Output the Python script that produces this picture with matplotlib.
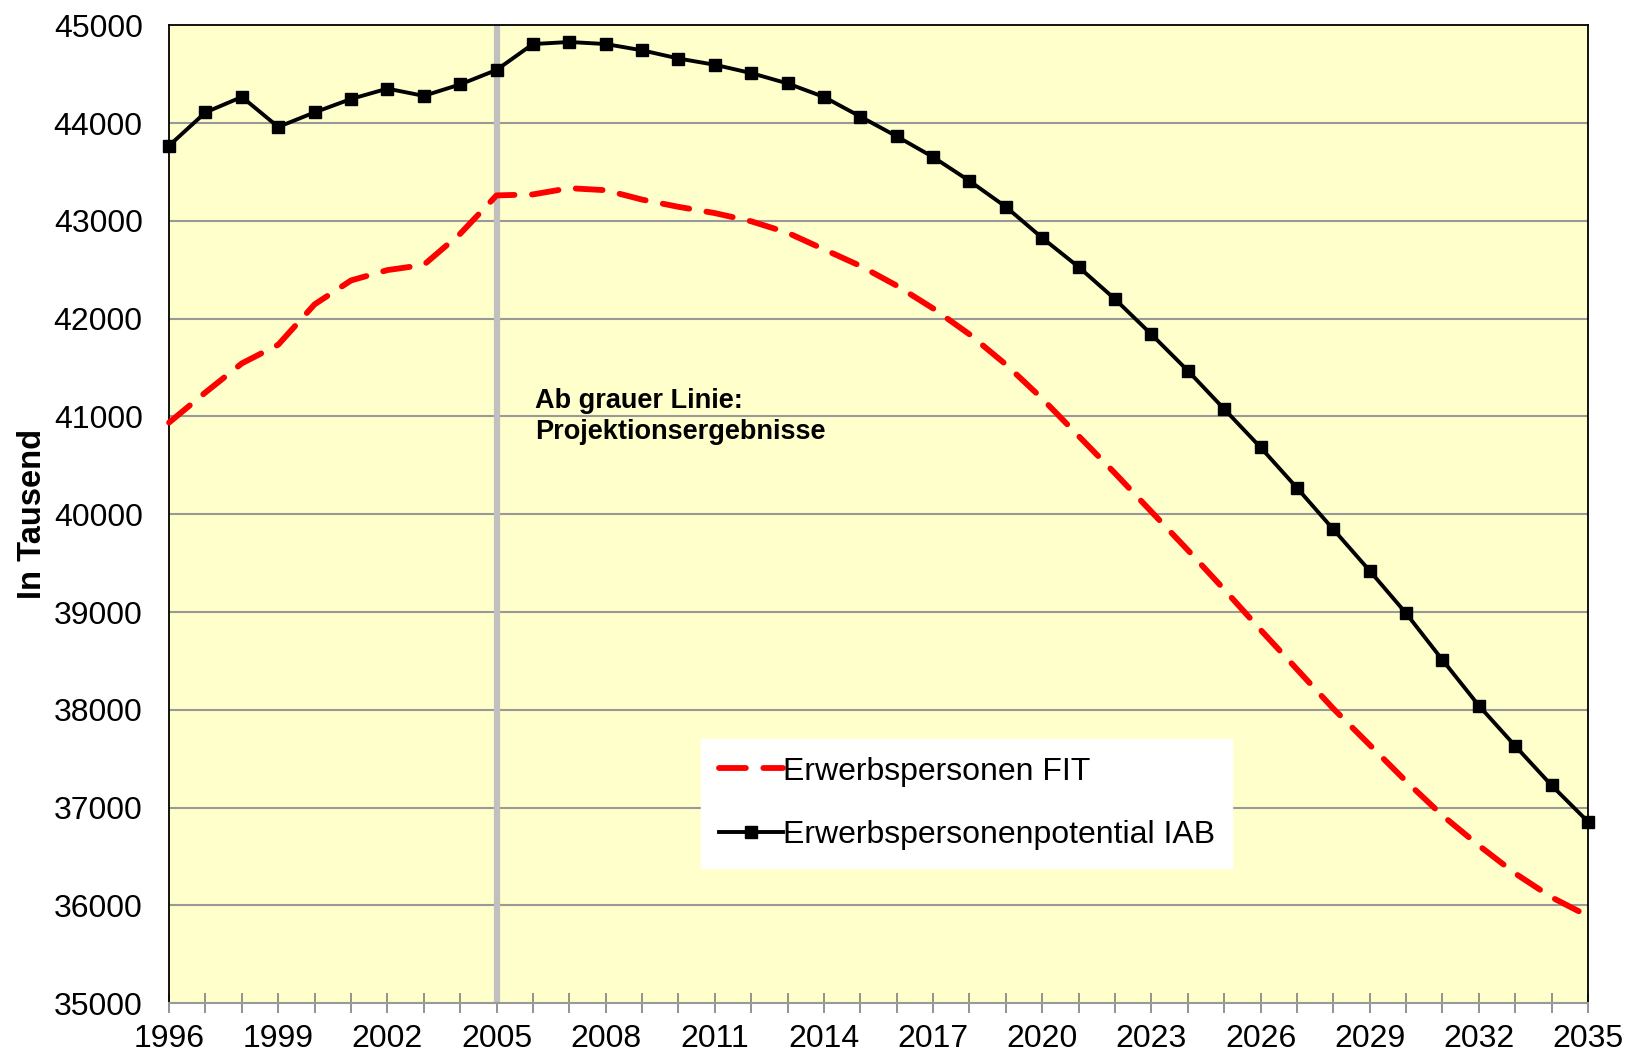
import numpy as np
import matplotlib
matplotlib.use("Agg")
import matplotlib.pyplot as plt

years = list(range(1996, 2036))

iab = [43770, 44110, 44268, 43961, 44110, 44247, 44353, 44279, 44396, 44544,
       44809, 44830, 44809, 44745, 44661, 44597, 44512, 44406, 44268, 44067,
       43865, 43653, 43409, 43144, 42826, 42529, 42200, 41840, 41469, 41076,
       40684, 40270, 39846, 39422, 38987, 38510, 38043, 37630, 37227, 36856]

fit = [40938, 41246, 41543, 41734, 42147, 42391, 42497, 42550, 42868, 43261,
       43271, 43335, 43314, 43218, 43144, 43080, 42996, 42879, 42709, 42540,
       42338, 42105, 41840, 41532, 41182, 40800, 40419, 40026, 39634, 39231,
       38818, 38415, 38012, 37641, 37269, 36919, 36612, 36326, 36082, 35891]

xtick_years = list(range(1996, 2036, 3))
ytick_vals = list(range(35000, 45001, 1000))
projection_start = 2005

plt.rcParams.update({"font.family": ["Liberation Sans", "DejaVu Sans"]})

fig = plt.figure(figsize=(16.26, 10.57), dpi=100)
ax = fig.add_axes([0.104, 0.051, 0.8726, 0.925])
ax.set_facecolor("#FFFFCC")

ax.set_xlim(1996, 2035)
ax.set_ylim(35000, 45000)

# horizontal gridlines
for yv in ytick_vals[1:-1]:
    ax.axhline(yv, color="#999999", linewidth=1.5, zorder=1)

# grey separator: start of projection
ax.axvline(projection_start, color="#C0C0C0", linewidth=4.5, zorder=2)

ax.plot(years, fit, color="#FF0000", linewidth=4.2,
        linestyle=(0, (4.6, 3.0)), dash_capstyle="round",
        label="Erwerbspersonen FIT", zorder=3, clip_on=False)
ax.plot(years, iab, color="black", linewidth=2.8, marker="s",
        markersize=9, label="Erwerbspersonenpotential IAB", zorder=4,
        clip_on=False)

ax.set_xticks(xtick_years)
ax.set_xticks(years, minor=True)
ax.set_yticks(ytick_vals)
ax.tick_params(axis="x", which="both", direction="inout", length=14,
               color="#808080", width=1.2, labelsize=23, pad=8)
ax.tick_params(axis="y", length=0, labelsize=23, pad=19)

for s in ["left", "top", "right"]:
    ax.spines[s].set_color("black")
    ax.spines[s].set_linewidth(1.3)
ax.spines["bottom"].set_color("#999999")
ax.spines["bottom"].set_linewidth(1.5)

ax.set_ylabel("In Tausend", fontsize=23.5, fontweight="bold", labelpad=4)

ax.text(2006.05, 41290, "Ab grauer Linie:\nProjektionsergebnisse",
        fontsize=19.5, fontweight="bold", va="top", ha="left",
        linespacing=1.25, zorder=5)

leg = ax.legend(loc="upper left", bbox_to_anchor=(0.375, 0.270),
                frameon=True, fancybox=False, fontsize=23,
                handlelength=2.0, handletextpad=0.0, borderpad=0.55,
                borderaxespad=0, labelspacing=1.05)
leg.get_frame().set_facecolor("white")
leg.get_frame().set_edgecolor("white")
leg.get_frame().set_alpha(1)

fig.savefig("out.png", dpi=100)
